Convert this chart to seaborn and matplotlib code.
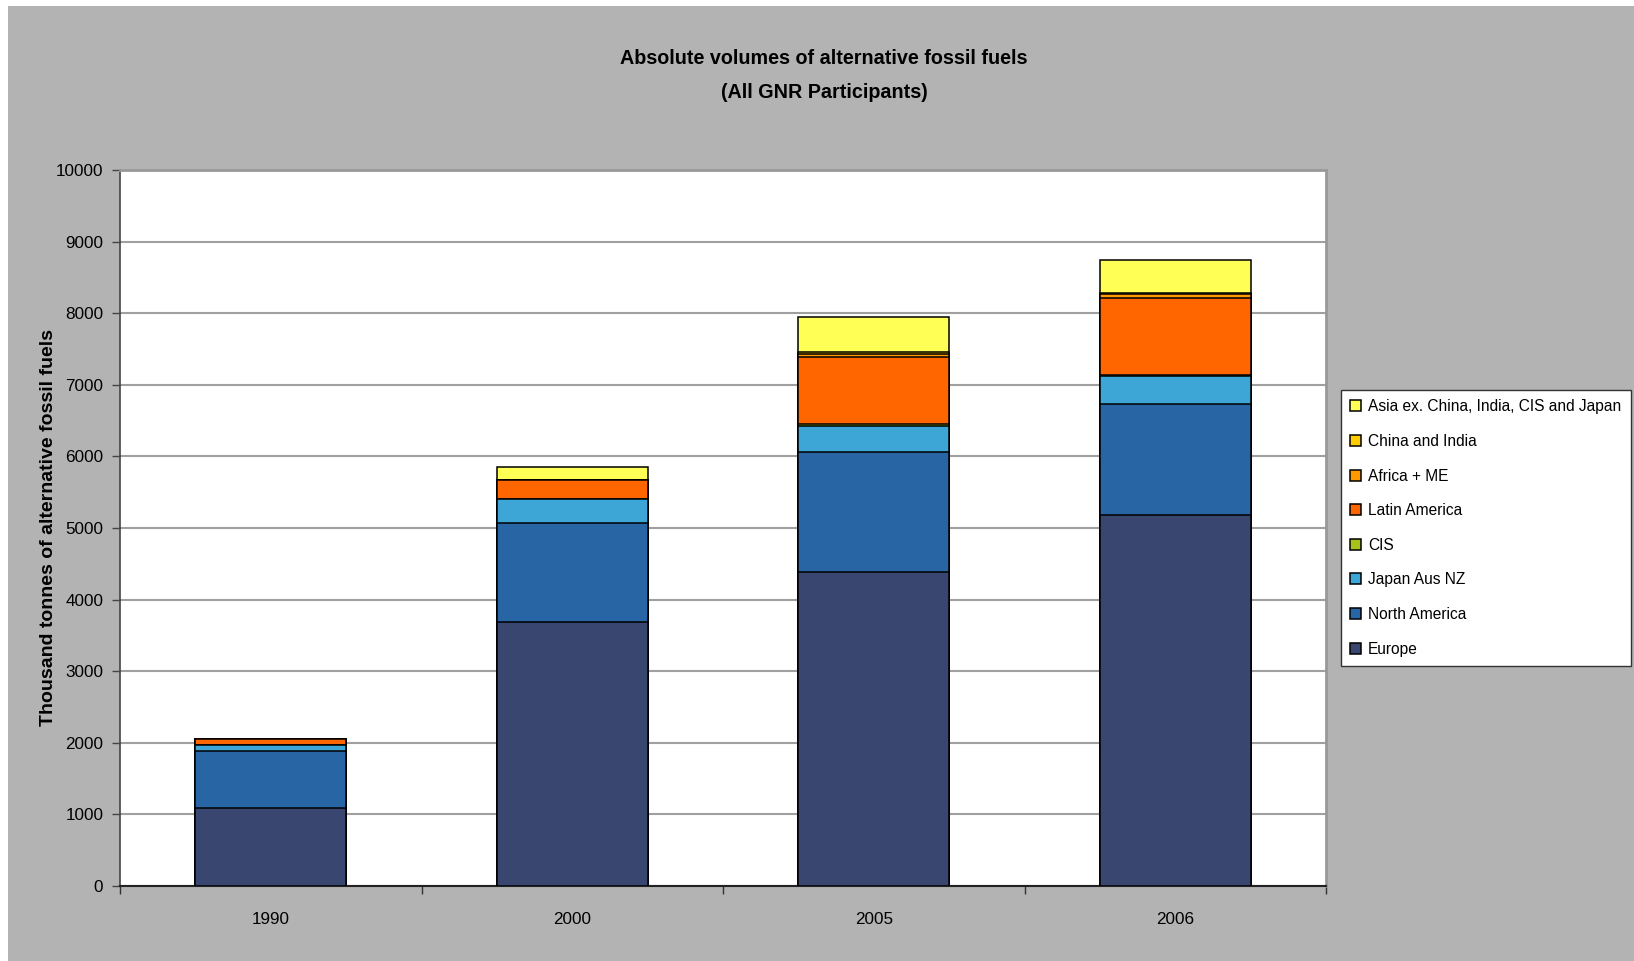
import matplotlib
matplotlib.use("Agg")
import matplotlib.pyplot as plt
from matplotlib.patches import Rectangle
from matplotlib.ticker import FixedLocator, MultipleLocator
import numpy as np
import pandas as pd
import seaborn as sns

# Volumes in thousand tonnes, per region and year
years = ["1990", "2000", "2005", "2006"]
europe = [1090, 3690, 4380, 5175]
north_america = [795, 1385, 1675, 1555]
japan_aus_nz = [90, 330, 370, 395]
cis = [0, 0, 30, 15]
latin_america = [78, 265, 930, 1070]
africa_me = [0, 0, 50, 55]
china_india = [0, 0, 30, 15]
asia_other = [0, 178, 475, 470]

series_names = ["Europe", "North America", "Japan Aus NZ", "CIS", "Latin America",
                "Africa + ME", "China and India", "Asia ex. China, India, CIS and Japan"]
series_values = [europe, north_america, japan_aus_nz, cis, latin_america,
                 africa_me, china_india, asia_other]
series_colors = ["#384670", "#2765A4", "#3DA6D6", "#A6C21A", "#FF6600",
                 "#FF9900", "#FFCC00", "#FFFF55"]

W, H, DPI = 1634, 961, 100
fig = plt.figure(figsize=(W / DPI, H / DPI), dpi=DPI, facecolor="white")
fig.patches.append(Rectangle((8 / W, 0), 1 - 8 / W, 1 - 6 / H, transform=fig.transFigure,
                             facecolor="#B3B3B3", edgecolor="none", zorder=-10))

ax = fig.add_axes([120 / W, 1 - 886 / H, (1326 - 120) / W, (886 - 170) / H])
ax.set_facecolor("white")

# Stacked bars: draw running totals from the top series down
df = pd.DataFrame({"year": years})
cum = np.cumsum(np.array(series_values, dtype=float), axis=0)
for i in reversed(range(len(series_names))):
    df["total"] = cum[i]
    sns.barplot(data=df, x="year", y="total", color=series_colors[i], saturation=1,
                width=0.5, edgecolor="black", linewidth=1.1, errorbar=None,
                label=series_names[i], ax=ax, zorder=3)

ax.set_xlim(-0.5, 3.5)
ax.set_ylim(0, 10000)
ax.yaxis.set_major_locator(MultipleLocator(1000))
ax.grid(axis="y", color="#A0A0A0", linewidth=1.5, zorder=0)
ax.set_axisbelow(True)

tick_font = dict(family=["Liberation Sans", "DejaVu Sans"], size=12.3)
ax.set_yticks(np.arange(0, 10001, 1000))
ax.set_yticklabels([str(v) for v in range(0, 10001, 1000)], **tick_font)
ax.tick_params(axis="y", direction="out", length=6, width=1, color="#444444", pad=6)
ax.set_xticks(range(len(years)))
ax.set_xticklabels(years, **tick_font)
ax.tick_params(axis="x", which="major", length=0, pad=19)
ax.xaxis.set_minor_locator(FixedLocator(np.arange(-0.5, 3.6, 1.0)))
ax.tick_params(axis="x", which="minor", direction="out", length=6, width=1, color="#333333")

ax.set_xlabel("")
ax.set_ylabel("Thousand tonnes of alternative fossil fuels",
              family=["Liberation Sans", "DejaVu Sans"], fontsize=14,
              fontweight="bold", va="center")
ax.yaxis.set_label_coords(-0.0595, 0.5)

for side, col, lw in [("left", "#444444", 1.2), ("bottom", "#222222", 1.5),
                      ("top", "#999999", 2.0), ("right", "#999999", 2.0)]:
    ax.spines[side].set_color(col)
    ax.spines[side].set_linewidth(lw)

title_font = ["Liberation Sans", "DejaVu Sans"]
fig.text(824 / W, 1 - 59 / H, "Absolute volumes of alternative fossil fuels",
         ha="center", va="center", family=title_font, fontsize=14.2, fontweight="bold")
fig.text(824 / W, 1 - 93 / H, "(All GNR Participants)",
         ha="center", va="center", family=title_font, fontsize=14.2, fontweight="bold")

handles, labels = ax.get_legend_handles_labels()
leg = ax.legend(handles, labels, loc="upper left", bbox_to_anchor=(1341 / W, 1 - 390 / H),
                bbox_transform=fig.transFigure, borderaxespad=0, frameon=True,
                fancybox=False, edgecolor="#333333", facecolor="white", framealpha=1,
                prop=dict(family=["Liberation Sans", "DejaVu Sans"], size=11.2),
                handlelength=0.7, handleheight=0.7,
                handletextpad=0.45, labelspacing=1.26, borderpad=0.6)
leg.get_frame().set_linewidth(1.0)

fig.savefig("out.png", dpi=DPI, facecolor=fig.get_facecolor())
